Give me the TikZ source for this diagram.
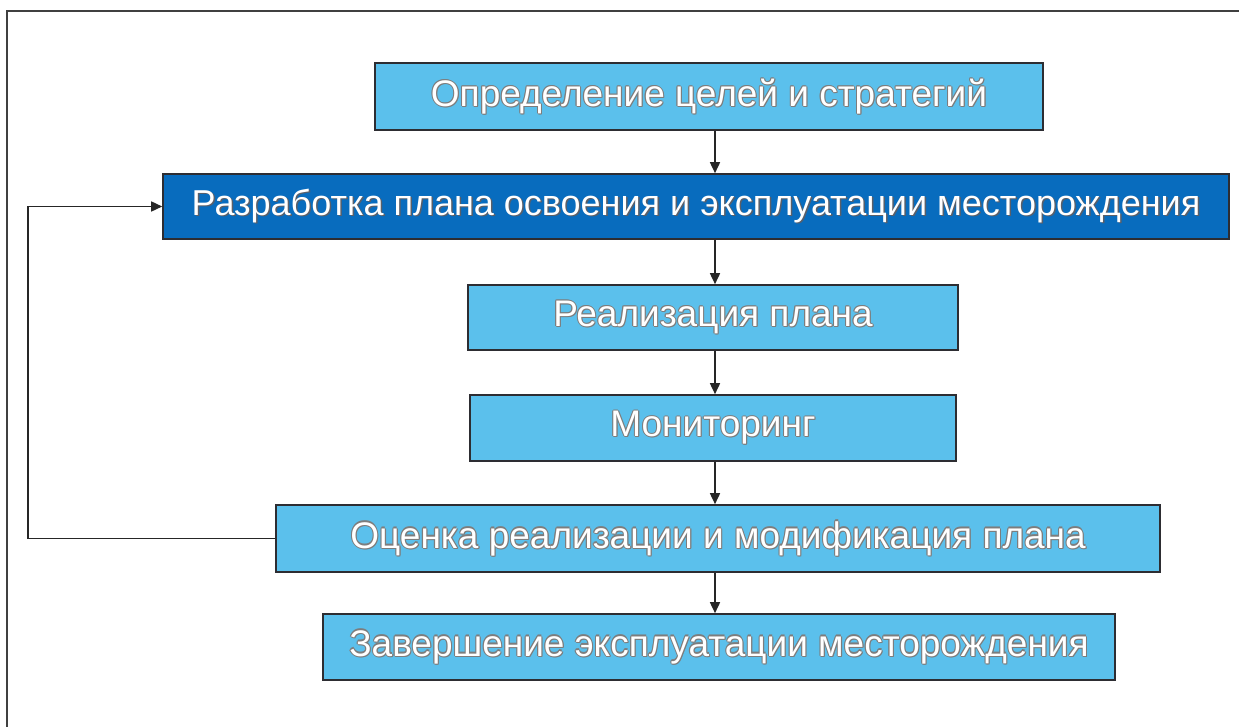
\documentclass[tikz,border=0pt]{standalone}
\usepackage{fontspec}
\setmainfont{Liberation Sans}
\usetikzlibrary{arrows.meta}
\definecolor{lightbox}{RGB}{91,192,236}
\definecolor{darkbox}{RGB}{8,108,190}
\definecolor{outl}{RGB}{125,125,125}
\definecolor{shad}{RGB}{90,95,105}
\definecolor{edge}{RGB}{45,45,50}
\newsavebox\otbox
\newcommand\outlinetext[1]{%
  \setbox\otbox\hbox{#1}%
  \makebox[\wd\otbox][l]{%
    \color{outl}%
    \rlap{\kern-1.1pt\copy\otbox}%
    \rlap{\kern1.1pt\copy\otbox}%
    \rlap{\raisebox{1.1pt}{\copy\otbox}}%
    \rlap{\raisebox{-1.1pt}{\copy\otbox}}%
    \rlap{\kern1pt\raisebox{-1pt}{\copy\otbox}}%
    \rlap{\kern-0.8pt\raisebox{0.8pt}{\copy\otbox}}%
    \color{white}\copy\otbox}}
\newcommand\shadowtext[1]{%
  \setbox\otbox\hbox{#1}%
  \makebox[\wd\otbox][l]{%
    \color{shad}%
    \rlap{\kern1.5pt\raisebox{-1.5pt}{\copy\otbox}}%
    \color{white}\copy\otbox}}
\tikzset{
  lbox/.style={draw=edge, line width=1.6pt, fill=lightbox, inner sep=0pt,
    font=\fontsize{37}{40}\selectfont},
  dbox/.style={draw=edge, line width=1.6pt, fill=darkbox, inner sep=0pt,
    font=\fontsize{36}{40}\selectfont},
  arr/.style={-{Triangle[length=11pt,width=10pt]}, line width=1.6pt, draw=black!85},
  frame/.style={line width=1.8pt, draw=black!75}
}
\begin{document}
\begin{tikzpicture}[x=1pt,y=-1pt]
\useasboundingbox (0,0) rectangle (1239,727);
\draw[frame] (1239,11) -- (7,11) -- (7,727);

\node[lbox, minimum width=668pt, minimum height=67pt] (b1) at (709,96.5)
  {\outlinetext{Определение целей и стратегий}};
\node[dbox, minimum width=1066pt, minimum height=65pt] (b2) at (696,206.5)
  {\shadowtext{Разработка плана освоения и эксплуатации месторождения}};
\node[lbox, minimum width=490pt, minimum height=65pt] (b3) at (713,317.5)
  {\outlinetext{Реализация плана}};
\node[lbox, minimum width=486pt, minimum height=66pt] (b4) at (713,428)
  {\outlinetext{Мониторинг}};
\node[lbox, minimum width=884pt, minimum height=67pt] (b5) at (718,538.5)
  {\outlinetext{Оценка реализации и модификация плана}};
\node[lbox, minimum width=792pt, minimum height=66pt] (b6) at (719,647)
  {\outlinetext{Завершение эксплуатации месторождения}};

\coordinate (ax) at (715,0);
\coordinate (fb) at (28,0);
\draw[arr] (b1.south -| ax) -- (b2.north -| ax);
\draw[arr] (b2.south -| ax) -- (b3.north -| ax);
\draw[arr] (b3.south -| ax) -- (b4.north -| ax);
\draw[arr] (b4.south -| ax) -- (b5.north -| ax);
\draw[arr] (b5.south -| ax) -- (b6.north -| ax);
\draw[arr] (b5.west) -- (b5.west -| fb) -- (b2.west -| fb) -- (b2.west);
\end{tikzpicture}
\end{document}
